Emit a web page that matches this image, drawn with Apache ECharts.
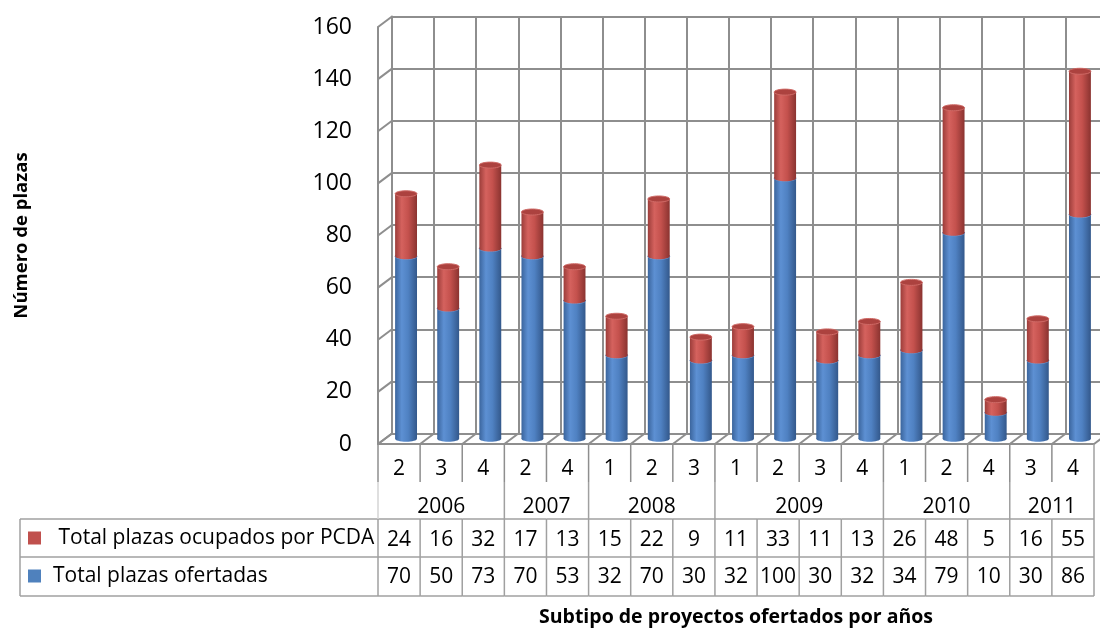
<!DOCTYPE html>
<html>
<head>
<meta charset="utf-8">
<script src="https://cdn.jsdelivr.net/npm/echarts@6/dist/echarts.min.js"></script>
<style>
  html, body { margin: 0; padding: 0; background: #fff; }
  #chart { width: 1100px; height: 628px; }
</style>
</head>
<body>
<div id="chart"></div>
<script>
// Subtipo de proyecto por columna y su año
const subtypes = ['2', '3', '4', '2', '4', '1', '2', '3', '1', '2', '3', '4', '1', '2', '4', '3', '4'];
const yearLabels = ['2006', '2007', '2008', '2009', '2010', '2011'];
const yearSpans = [3, 2, 3, 4, 3, 2];

// Plazas por columna
const ocupados = [24, 16, 32, 17, 13, 15, 22, 9, 11, 33, 11, 13, 26, 48, 5, 16, 55];
const ofertadas = [70, 50, 73, 70, 53, 32, 70, 30, 32, 100, 30, 32, 34, 79, 10, 30, 86];

// Marcas del eje vertical
const yTickValues = [0, 20, 40, 60, 80, 100, 120, 140, 160];

const NAME_OCUP = ' Total plazas ocupados por PCDA';
const NAME_OFER = 'Total plazas ofertadas';

const FONT = '"Open Sans", "Noto Sans", sans-serif';
const GRID_LEFT = 378, GRID_TOP = 27, GRID_W = 716, GRID_H = 417;
const DX = 14, DY = -10.5;              // profundidad de la caja 3D
const LINE = '#8e8e8e';
const TABLE_LINE = '#a0a0a0';
const LEGEND_BOX_LEFT = 20;
const TABLE_FONT = '21px ' + FONT;
// filas de la tabla, medidas desde el borde frontal del suelo
const ROW_EDGES = [0, 38, 75, 113, 152];
const ROW_TEXT = [25, 63, 96, 133.5];

const yMin = yTickValues[0];
const yMax = yTickValues[yTickValues.length - 1];
const yStep = yTickValues[1] - yTickValues[0];
const catIdx = subtypes.map((_, i) => i);

// Grupos de años: [primera columna, última columna, índice de año]
const yearGroups = [];
(function () {
  let s = 0;
  yearSpans.forEach((n, k) => { yearGroups.push([s, s + n - 1, k]); s += n; });
})();

function line(x1, y1, x2, y2, color, width) {
  return { type: 'line', shape: { x1, y1, x2, y2 }, style: { stroke: color, lineWidth: width } };
}
function text(x, y, str, opt) {
  return {
    type: 'text',
    style: Object.assign({
      x, y, text: str, fill: '#000', font: TABLE_FONT,
      align: 'center', verticalAlign: 'middle'
    }, opt || {})
  };
}

// Cilindro apilado: value = [columna, base, tope]
function cylinder(stops, cap, rim) {
  return function (params, api) {
    const i = api.value(0);
    const base = api.coord([i, api.value(1)]);
    const top = api.coord([i, api.value(2)]);
    const band = api.size([1, 0])[0];
    const rx = band * 0.26, ry = 3;
    const cx = base[0];
    const grad = () => new echarts.graphic.LinearGradient(0, 0, 1, 0, stops);
    return {
      type: 'group',
      children: [
        { type: 'rect', shape: { x: cx - rx, y: top[1], width: 2 * rx, height: base[1] - top[1] }, style: { fill: grad() } },
        { type: 'ellipse', shape: { cx, cy: base[1], rx, ry }, style: { fill: grad() } },
        { type: 'ellipse', shape: { cx, cy: top[1], rx, ry }, style: { fill: cap, stroke: rim, lineWidth: 1 } }
      ]
    };
  };
}

const blueStops = [
  { offset: 0, color: '#3b659d' }, { offset: 0.3, color: '#5d90d3' },
  { offset: 0.6, color: '#4f81c2' }, { offset: 1, color: '#33588b' }
];
const redStops = [
  { offset: 0, color: '#9c3d3a' }, { offset: 0.3, color: '#d5625e' },
  { offset: 0.6, color: '#c4514d' }, { offset: 1, color: '#8a3330' }
];

const chart = echarts.init(document.getElementById('chart'), null, { renderer: 'canvas' });

const legendText = { fontFamily: FONT, fontSize: 21, color: '#000', lineHeight: 20, padding: [0, 0, 0, 7] };

const option = {
  backgroundColor: '#fff',
  animation: false,
  textStyle: { fontFamily: FONT },
  legend: [
    {
      data: [NAME_OCUP], left: 28, top: 527.5, orient: 'vertical', padding: 0,
      icon: 'rect', itemWidth: 13, itemHeight: 13, textStyle: legendText
    },
    {
      data: [NAME_OFER], left: 28, top: 565.5, orient: 'vertical', padding: 0,
      icon: 'rect', itemWidth: 13, itemHeight: 13, textStyle: legendText
    }
  ],
  grid: [
    // frente (ejes, tabla, suelo)
    { left: GRID_LEFT, top: GRID_TOP, width: GRID_W, height: GRID_H, outerBoundsMode: 'none' },
    // pared del fondo
    { left: GRID_LEFT + DX, top: GRID_TOP + DY, width: GRID_W, height: GRID_H, outerBoundsMode: 'none' },
    // plano medio donde se apoyan los cilindros
    { left: GRID_LEFT + DX / 2, top: GRID_TOP + DY / 2, width: GRID_W, height: GRID_H, outerBoundsMode: 'none' }
  ],
  xAxis: [
    {
      gridIndex: 0, type: 'category', data: catIdx,
      axisLine: { show: true, lineStyle: { color: LINE, width: 2 } },
      axisTick: { show: false }, axisLabel: { show: false }, splitLine: { show: false },
      name: 'Subtipo de proyectos ofertados por años', nameLocation: 'middle', nameGap: 163,
      nameTextStyle: { fontFamily: FONT, fontSize: 19.5, fontWeight: 'bold', color: '#000', verticalAlign: 'top' }
    },
    {
      gridIndex: 1, type: 'category', data: catIdx,
      axisLine: { show: true, lineStyle: { color: LINE, width: 2 } },
      axisTick: { show: false }, axisLabel: { show: false, interval: 0 },
      splitLine: { show: true, interval: 0, lineStyle: { color: LINE, width: 2 } }
    },
    {
      gridIndex: 2, type: 'category', data: catIdx, show: false
    }
  ],
  yAxis: [
    {
      gridIndex: 0, type: 'value', min: yMin, max: yMax, interval: yStep,
      axisLine: { show: true, lineStyle: { color: LINE, width: 2 } },
      axisTick: { show: false }, splitLine: { show: false },
      axisLabel: { fontFamily: FONT, fontSize: 23, color: '#000', margin: 26, padding: [6, 0, 0, 0] },
      name: 'Número de plazas', nameLocation: 'middle', nameRotate: 90, nameGap: 347,
      nameTextStyle: { fontFamily: FONT, fontSize: 18.5, fontWeight: 'bold', color: '#000' }
    },
    {
      gridIndex: 1, type: 'value', min: yMin, max: yMax, interval: yStep,
      axisLine: { show: true, lineStyle: { color: LINE, width: 2 } },
      axisTick: { show: false }, axisLabel: { show: false },
      splitLine: { show: true, lineStyle: { color: LINE, width: 2 } }
    },
    {
      gridIndex: 2, type: 'value', min: yMin, max: yMax, interval: yStep, show: false
    }
  ],
  series: [
    // pared lateral izquierda: diagonales en cada marca
    {
      type: 'custom', name: 'pared', xAxisIndex: 0, yAxisIndex: 0, clip: false, silent: true, z: 1,
      data: yTickValues.map(v => [0, v]),
      renderItem(params, api) {
        const p = api.coord([0, api.value(1)]);
        const band = api.size([1, 0])[0];
        const xl = p[0] - band / 2;
        return line(xl, p[1], xl + DX, p[1] + DY, LINE, 2);
      }
    },
    // suelo: diagonales en los límites de cada columna
    {
      type: 'custom', name: 'suelo', xAxisIndex: 0, yAxisIndex: 0, clip: false, silent: true, z: 1,
      data: catIdx.concat([catIdx.length]).map(i => [i, 0]),
      renderItem(params, api) {
        const i = api.value(0);
        const band = api.size([1, 0])[0];
        const last = subtypes.length - 1;
        const p = api.coord([Math.min(i, last), 0]);
        const x = i > last ? p[0] + band / 2 : p[0] - band / 2;
        return line(x, p[1], x + DX, p[1] + DY, LINE, 2);
      }
    },
    // cilindros
    {
      type: 'custom', name: NAME_OFER, xAxisIndex: 2, yAxisIndex: 2, z: 3,
      itemStyle: { color: '#4F81BD' },
      data: ofertadas.map((v, i) => [i, 0, v]),
      renderItem: cylinder(blueStops, '#4a7bb8', '#6f9bd6')
    },
    {
      type: 'custom', name: NAME_OCUP, xAxisIndex: 2, yAxisIndex: 2, z: 3,
      itemStyle: { color: '#C0504D' },
      data: ocupados.map((v, i) => [i, ofertadas[i], ofertadas[i] + v]),
      renderItem: cylinder(redStops, '#ac423f', '#cf6a66')
    },
    // tabla de datos: columnas
    {
      type: 'custom', name: 'tabla', xAxisIndex: 0, yAxisIndex: 0, clip: false, silent: true, z: 2,
      data: catIdx.map(i => [i, 0]),
      renderItem(params, api) {
        const i = api.value(0);
        const p = api.coord([i, 0]);
        const band = api.size([1, 0])[0];
        const xl = p[0] - band / 2, xr = p[0] + band / 2, y0 = p[1];
        const R = ROW_EDGES.map(e => y0 + e);
        const last = i === subtypes.length - 1;
        const kids = [
          line(xl, R[0], xl, R[1], LINE, 1.5),
          line(xl, R[2], xl, R[4], TABLE_LINE, 1.5),
          line(xl, R[2], xr, R[2], TABLE_LINE, 1.5),
          line(xl, R[3], xr, R[3], TABLE_LINE, 1.5),
          line(xl, R[4], xr, R[4], TABLE_LINE, 1.5),
          text(p[0], y0 + ROW_TEXT[0], subtypes[i]),
          text(p[0], y0 + ROW_TEXT[2], String(ocupados[i])),
          text(p[0], y0 + ROW_TEXT[3], String(ofertadas[i]))
        ];
        if (last) kids.push(line(xr, R[0], xr, R[4], TABLE_LINE, 1.5));
        if (i === 0) {
          // celdas de la leyenda
          kids.push(line(LEGEND_BOX_LEFT, R[2], xl, R[2], TABLE_LINE, 1.5));
          kids.push(line(LEGEND_BOX_LEFT, R[3], xl, R[3], TABLE_LINE, 1.5));
          kids.push(line(LEGEND_BOX_LEFT, R[4], xl, R[4], TABLE_LINE, 1.5));
          kids.push(line(LEGEND_BOX_LEFT, R[2], LEGEND_BOX_LEFT, R[4], TABLE_LINE, 1.5));
        }
        return { type: 'group', children: kids };
      }
    },
    // tabla de datos: fila de años
    {
      type: 'custom', name: 'años', xAxisIndex: 0, yAxisIndex: 0, clip: false, silent: true, z: 2,
      data: yearGroups,
      renderItem(params, api) {
        const s = api.value(0), e = api.value(1), k = api.value(2);
        const band = api.size([1, 0])[0];
        const ps = api.coord([s, 0]), pe = api.coord([e, 0]);
        const xl = ps[0] - band / 2, xr = pe[0] + band / 2, y0 = ps[1];
        const kids = [text((xl + xr) / 2, y0 + ROW_TEXT[1], yearLabels[k])];
        if (k < yearLabels.length - 1) kids.push(line(xr, y0 + ROW_EDGES[1], xr, y0 + ROW_EDGES[2], TABLE_LINE, 1.5));
        if (k === 0) kids.push(line(xl, y0 + ROW_EDGES[1], xl, y0 + ROW_EDGES[2], '#d4d4d4', 1.5));
        return { type: 'group', children: kids };
      }
    }
  ]
};

chart.setOption(option);
</script>
</body>
</html>
